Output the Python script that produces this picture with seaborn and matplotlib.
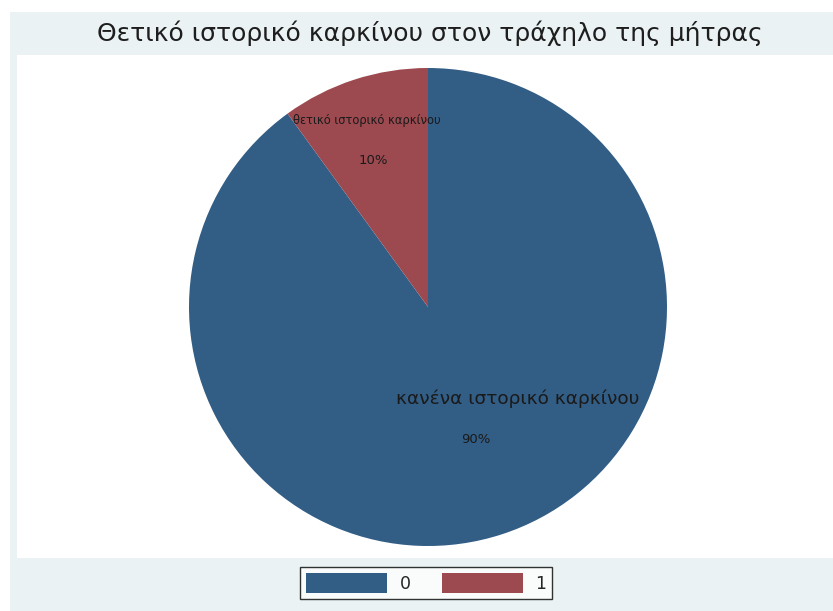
import matplotlib
matplotlib.use("Agg")
import matplotlib.pyplot as plt
from matplotlib.patches import Rectangle, Patch
import seaborn as sns

# Data
categories = ["0", "1"]
shares = [90, 10]
slice_labels = ["κανένα ιστορικό καρκίνου", "θετικό ιστορικό καρκίνου"]
title = "Θετικό ιστορικό καρκίνου στον τράχηλο της μήτρας"

sns.set_style("white")
plt.rcParams["font.family"] = ["DejaVu Sans"]
colors = sns.color_palette(["#325d85", "#9c4a50"])

W, H = 833, 611
fig = plt.figure(figsize=(W / 100, H / 100), dpi=100, facecolor="white")

def fx(px):
    return px / W

def fy(py):
    return 1 - py / H

# Graph region background
fig.patches.append(Rectangle((fx(10), 0), 1 - fx(10), fy(12), transform=fig.transFigure,
                             facecolor="#eaf2f3", edgecolor="none", zorder=-2))
# Plot region
fig.patches.append(Rectangle((fx(17), fy(558)), 1 - fx(17), fy(55) - fy(558),
                             transform=fig.transFigure, facecolor="white",
                             edgecolor="none", zorder=-1))

fig.text(fx(430), fy(33), title, ha="center", va="center", fontsize=18,
         color="#1e1e1e")

# Pie
cx, cy, r = 428, 307, 239
ax = fig.add_axes([fx(cx - r), fy(cy + r), fx(2 * r), fy(cy - r) - fy(cy + r)])
ax.set_zorder(2)
ax.set_facecolor("none")
wedges, _ = ax.pie(shares, colors=colors, startangle=90, counterclock=False,
                   radius=1.0, wedgeprops=dict(linewidth=0))
ax.set_xlim(-1, 1)
ax.set_ylim(-1, 1)
ax.set_aspect("equal")
ax.axis("off")

# Slice labels with percentages
label_pos = [((0.377, -0.385), (0.20, -0.556), 13.3),
             ((-0.255, 0.782), (-0.23, 0.615), 8.3)]
for name, val, (lp, pp, fs) in zip(slice_labels, shares, label_pos):
    ax.text(*lp, name, ha="center", va="center", fontsize=fs, color="#1a1a1a")
    ax.text(*pp, f"{val}%", ha="center", va="center", fontsize=9.5, color="#1a1a1a")

# Legend
handles = [Patch(facecolor=c, edgecolor="none") for c in colors]
leg = fig.legend(handles, categories, loc="center", bbox_to_anchor=(fx(426), fy(583)),
                 ncol=2, fontsize=12.5, frameon=True, fancybox=False,
                 handlelength=4.7, handleheight=1.45, handletextpad=0.7,
                 columnspacing=1.8, borderpad=0.35)
leg.get_frame().set_edgecolor("black")
leg.get_frame().set_linewidth(1.0)
leg.get_frame().set_facecolor("white")

fig.savefig("out.png", dpi=100, facecolor="white")
